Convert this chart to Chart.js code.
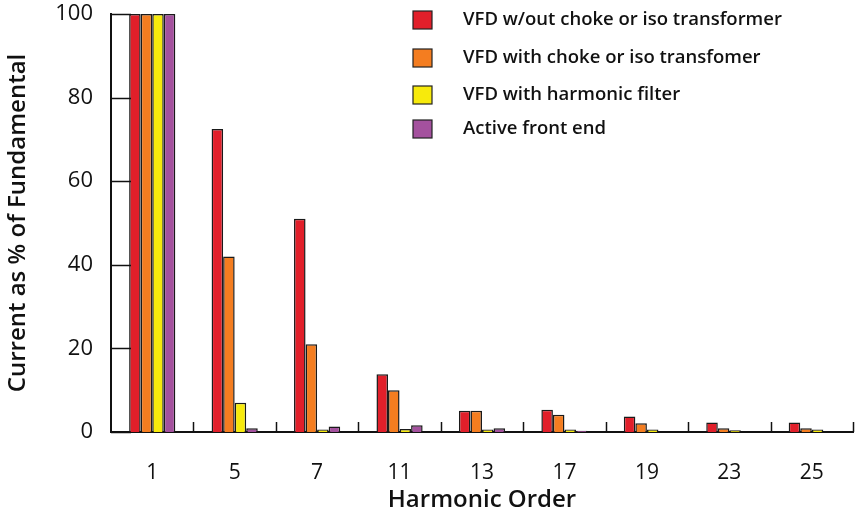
<!DOCTYPE html>
<html>
<head>
<meta charset="utf-8">
<script src="https://cdn.jsdelivr.net/npm/chart.js@4/dist/chart.umd.min.js"></script>
<style>
  html, body { margin: 0; padding: 0; background: #fff; }
  #wrap { width: 862px; height: 519px; position: relative; }
</style>
</head>
<body>
<div id="wrap"><canvas id="c"></canvas></div>
<script>
// ---- data ----
const orders = ["1", "5", "7", "11", "13", "17", "19", "23", "25"];
const seriesNames = [
  "VFD w/out choke or iso transformer",
  "VFD with choke or iso transfomer",
  "VFD with harmonic filter",
  "Active front end"
];
const noChoke   = [100, 72.5, 51, 13.8, 5.1, 5.3, 3.7, 2.3, 2.3];
const withChoke = [100, 42,   21, 10,   5.1, 4.1, 2.1, 0.9, 0.9];
const filter    = [100, 7,   0.6, 0.7,  0.6, 0.6, 0.6, 0.4, 0.6];
const afe       = [100, 0.9, 1.3, 1.6,  0.9, 0.3, 0,   0,   0];
const yTicks = [0, 20, 40, 60, 80, 100];

const colors = ["#e11f2a", "#f47d20", "#f7ea0c", "#a4519e"];
const font = "'Open Sans', 'DejaVu Sans', sans-serif";

// inward ticks + hand drawn legend
const decor = {
  id: 'decor',
  afterDraw(chart) {
    const ctx = chart.ctx, x = chart.scales.x, y = chart.scales.y;
    ctx.save();
    ctx.strokeStyle = '#111';
    ctx.lineWidth = 1.5;
    yTicks.forEach(v => {
      const py = Math.round(y.getPixelForValue(v)) + 0.5;
      ctx.beginPath(); ctx.moveTo(x.left, py); ctx.lineTo(x.left + 20, py); ctx.stroke();
    });
    const step = (x.right - x.left) / orders.length;
    for (let i = 1; i <= orders.length; i++) {
      const px = Math.round(x.left + step * i) + 0.5;
      ctx.beginPath(); ctx.moveTo(px, y.bottom); ctx.lineTo(px, y.bottom - 10); ctx.stroke();
    }
    // legend
    const rows = [20, 58, 95, 129];
    ctx.font = "600 18.5px " + font;
    ctx.textBaseline = 'middle';
    chart.data.datasets.forEach((ds, i) => {
      ctx.fillStyle = ds.backgroundColor;
      ctx.fillRect(413, rows[i] - 9, 19, 18);
      ctx.lineWidth = 1.2;
      ctx.strokeStyle = '#222';
      ctx.strokeRect(413, rows[i] - 9, 19, 18);
      ctx.fillStyle = '#111';
      ctx.fillText(ds.label, 463, rows[i]);
    });
    ctx.restore();
  }
};

new Chart(document.getElementById('c'), {
  type: 'bar',
  data: {
    labels: orders,
    datasets: [noChoke, withChoke, filter, afe].map((d, i) => ({
      label: seriesNames[i],
      data: d,
      backgroundColor: colors[i],
      borderColor: '#1a1a1a',
      borderWidth: 1.5,
      borderSkipped: 'bottom',
      categoryPercentage: 0.56,
      barPercentage: 1
    }))
  },
  options: {
    responsive: true,
    maintainAspectRatio: false,
    animation: false,
    layout: { padding: { top: 14, right: 9, left: 0, bottom: 0 } },
    plugins: { legend: { display: false }, tooltip: { enabled: false } },
    scales: {
      x: {
        grid: { display: false },
        border: { display: true, color: '#111', width: 2 },
        ticks: { color: '#111', font: { family: font, size: 21 }, padding: 20 },
        title: { display: true, text: 'Harmonic Order', color: '#111', font: { family: font, size: 24, weight: '600' }, padding: { top: 6 } },
        afterFit: s => { s.height = 87; }
      },
      y: {
        min: 0, max: 100,
        afterBuildTicks: s => { s.ticks = yTicks.map(v => ({ value: v })); },
        grid: { display: false },
        border: { display: true, color: '#111', width: 2 },
        ticks: { color: '#111', font: { family: font, size: 22 }, padding: 10 },
        title: { display: true, text: 'Current as % of Fundamental', color: '#111', font: { family: font, size: 24, weight: '600' }, padding: { bottom: 4 } },
        afterFit: s => { s.width = 111; s.paddingTop = 0; s.paddingBottom = 0; }
      }
    }
  },
  plugins: [decor]
});
</script>
</body>
</html>
